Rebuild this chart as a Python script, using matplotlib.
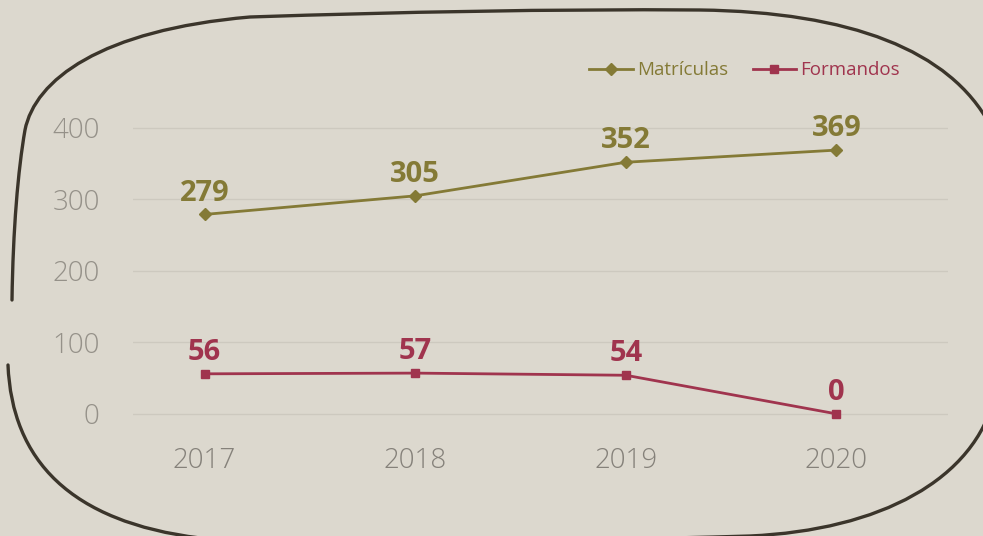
import matplotlib
matplotlib.use("Agg")
import matplotlib.pyplot as plt
from matplotlib.path import Path
from matplotlib.patches import PathPatch

anos = [2017, 2018, 2019, 2020]
matriculas = [279, 305, 352, 369]
formandos = [56, 57, 54, 0]
yticks = [0, 100, 200, 300, 400]

bg = "#dcd8ce"
olive = "#847a36"
maroon = "#a0344e"
W, H = 983, 536

fig = plt.figure(figsize=(W / 100, H / 100), dpi=100, facecolor=bg)
ax = fig.add_axes([133 / W, 1 - 421 / H, (948 - 133) / W, (421 - 120.8) / H])
ax.set_facecolor(bg)

ax.plot(anos, matriculas, color=olive, lw=2, marker="D", ms=6, label="Matrículas")
ax.plot(anos, formandos, color=maroon, lw=2, marker="s", ms=6, label="Formandos")

for serie, cor in [(matriculas, olive), (formandos, maroon)]:
    for x, v in zip(anos, serie):
        ax.annotate(str(v), (x, v), xytext=(0, 10), textcoords="offset points",
                    ha="center", va="baseline", color=cor, fontsize=21,
                    fontweight="bold", family="Open Sans")

ax.set_xlim(2016.66, 2020.53)
ax.set_ylim(-10, 410)
ax.set_xticks(anos)
ax.set_xticklabels([str(a) for a in anos], fontsize=20, color="#85817a",
                   family="Open Sans", fontweight="light")
ax.set_yticks(yticks)
ax.set_yticklabels([str(t) for t in yticks], fontsize=20, color="#959189",
                   family="Open Sans", fontweight="light")
ax.tick_params(length=0)
ax.tick_params(axis="x", pad=19)
ax.tick_params(axis="y", pad=24)
ax.grid(axis="y", color="#cdc9bf", lw=1)
for s in ax.spines.values():
    s.set_visible(False)

leg = ax.legend(loc="center right", bbox_to_anchor=(0.962, 1.169),
                ncol=2, frameon=False, handlelength=2.3, columnspacing=1.3,
                handletextpad=0.25, prop={"family": "Open Sans", "size": 13.5})
for txt, c in zip(leg.get_texts(), [olive, maroon]):
    txt.set_color(c)

# hand drawn rounded frame (pixel coords, y down), with a gap on the left side
pts = [
    (12, 300),
    (13, 230), (18, 170), (25, 130),
    (35, 80), (100, 30), (250, 17),
    (400, 12), (550, 9), (700, 10),
    (850, 12), (950, 50), (990, 125),
    (1010, 200), (1010, 330), (995, 395),
    (975, 480), (880, 530), (750, 536),
    (550, 542), (350, 542), (200, 538),
    (70, 522), (12, 460), (8, 365),
]
codes = [Path.MOVETO] + [Path.CURVE4] * (len(pts) - 1)
verts = [(x / W, 1 - y / H) for x, y in pts]
frame = PathPatch(Path(verts, codes), transform=fig.transFigure, fill=False,
                  edgecolor="#3b352b", lw=2.4, capstyle="round")
fig.patches.append(frame)

fig.savefig("out.png", dpi=100, facecolor=bg)
